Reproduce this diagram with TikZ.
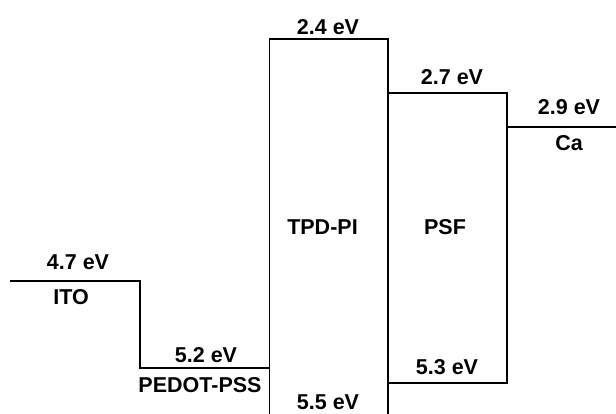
\documentclass[tikz,border=0pt]{standalone}
\usepackage{fontspec}
\setmainfont{Liberation Sans}
\begin{document}
\begin{tikzpicture}[x=1pt,y=-1pt,
  lvl/.style={draw=black,line width=1.1pt},
  lab/.style={font=\fontsize{21.5}{24}\selectfont\bfseries,inner sep=0pt,anchor=center}]
\useasboundingbox (0,0) rectangle (616,414);
% coordinates
\coordinate (itoL) at (10,281);
\coordinate (itoR) at (140,281);
\coordinate (pedL) at (140,368);
\coordinate (pedR) at (269.5,368);
\coordinate (tpdBL) at (269.5,414);
\coordinate (tpdTL) at (269.5,39);
\coordinate (tpdTR) at (388,39);
\coordinate (tpdBR) at (388,414);
\coordinate (psfTL) at (388,93);
\coordinate (psfTR) at (507,93);
\coordinate (psfBL) at (388,383);
\coordinate (psfBR) at (507,383);
\coordinate (caL) at (507,127);
\coordinate (caR) at (616,127);
% levels
\draw[lvl] (itoL) -- (itoR) -- (pedL) -- (pedR);
\draw[lvl] (tpdBL) -- (tpdTL) -- (tpdTR) -- (tpdBR);
\draw[lvl] (psfTL) -- (psfTR) -- (psfBR) -- (psfBL);
\draw[lvl] (caL) -- (caR);
% labels
\node[lab] (l47) at (78,262) {4.7 eV};
\node[lab] (lito) at (71,297.5) {ITO};
\node[lab] (l52) at (206,355) {5.2 eV};
\node[lab] (lped) at (200,385.5) {PEDOT-PSS};
\node[lab] (l24) at (328,27) {2.4 eV};
\node[lab] (l55) at (328,402) {5.5 eV};
\node[lab] (ltpd) at (322.5,227) {TPD-PI};
\node[lab] (l27) at (452,77) {2.7 eV};
\node[lab] (lpsf) at (445,227) {PSF};
\node[lab] (l53) at (447,367) {5.3 eV};
\node[lab] (l29) at (569,107) {2.9 eV};
\node[lab] (lca) at (569,143) {Ca};
\end{tikzpicture}
\end{document}
